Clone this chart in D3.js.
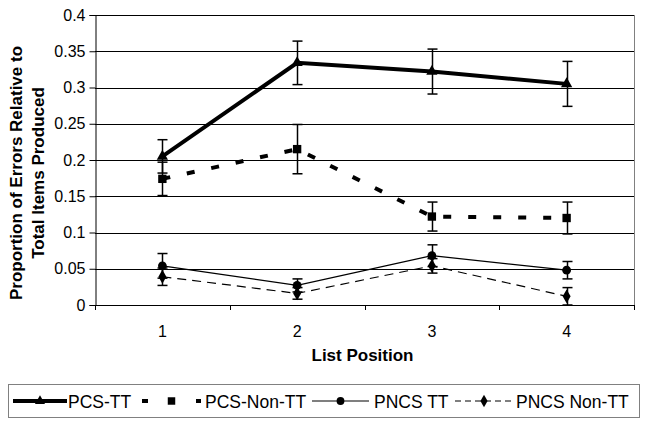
<!DOCTYPE html>
<html><head><meta charset="utf-8">
<script src="https://cdn.jsdelivr.net/npm/d3@7"></script>
<style>body{margin:0;background:#fff}svg{display:block;font-family:"Liberation Sans",Arial,sans-serif}</style>
</head><body><svg id="c" width="649" height="427"></svg>
<script>
const categories = ["1","2","3","4"];
const yTicks = [0,0.05,0.1,0.15,0.2,0.25,0.3,0.35,0.4];
const yTickLabels = ["0","0.05","0.1","0.15","0.2","0.25","0.3","0.35","0.4"];
const seriesNames = ["PCS-TT","PCS-Non-TT","PNCS TT","PNCS Non-TT"];
const pcsTT = [0.205,0.334,0.322,0.305];
const pcsTTErr = [0.023,0.030,0.031,0.031];
const pcsNonTT = [0.174,0.215,0.122,0.120];
const pcsNonTTErr = [0.023,0.034,0.020,0.022];
const pncsTT = [0.054,0.027,0.068,0.048];
const pncsTTErr = [0.017,0.009,0.015,0.012];
const pncsNonTT = [0.039,0.016,0.054,0.012];
const pncsNonTTErr = [0.012,0.008,0.010,0.012];
const xTitle = "List Position";
const yTitle = ["Proportion of Errors Relative to","Total Items Produced"];

const svg = d3.select("#c");
const L=95,R=634,T=15,B=305;
const x = d3.scaleBand().domain(categories).range([L,R]).padding(0);
const y = d3.scaleLinear().domain([0,0.4]).range([B,T]);
const cx = c => x(c)+x.bandwidth()/2;

// gridlines
svg.append("g").selectAll("line").data(yTicks.filter(v=>v>0)).join("line")
  .attr("x1",L).attr("x2",R).attr("y1",d=>Math.round(y(d))+0.5).attr("y2",d=>Math.round(y(d))+0.5)
  .attr("stroke","#000").attr("stroke-width",1);
// right border
svg.append("line").attr("x1",R+0.5).attr("x2",R+0.5).attr("y1",T).attr("y2",B).attr("stroke","#808080");

// y axis
const yAxis = d3.axisLeft(y).tickValues(yTicks).tickFormat((d,i)=>yTickLabels[i]).tickSize(6).tickPadding(4);
const ya = svg.append("g").attr("transform",`translate(${L+0.5},0)`).call(yAxis);
ya.select(".domain").attr("stroke","#000");
ya.selectAll("text").attr("font-size",16).attr("fill","#000").attr("font-family","Liberation Sans, Arial");

// x axis
const xa = svg.append("g").attr("transform",`translate(0,${B+0.5})`).call(d3.axisBottom(x).tickSize(0).tickPadding(20));
xa.select(".domain").remove();
xa.selectAll("text").attr("font-size",16).attr("fill","#000").attr("font-family","Liberation Sans, Arial");
svg.append("line").attr("x1",L).attr("x2",R+1).attr("y1",B+0.5).attr("y2",B+0.5).attr("stroke","#000");
const bounds = categories.map(c=>x(c)).concat([R]);
svg.append("g").selectAll("line").data(bounds).join("line")
  .attr("x1",d=>Math.round(d)+0.5).attr("x2",d=>Math.round(d)+0.5).attr("y1",B).attr("y2",B+5).attr("stroke","#000");

// titles
svg.append("text").attr("x",(L+R)/2-2).attr("y",361).attr("text-anchor","middle")
  .attr("font-size",17).attr("font-weight","bold").text(xTitle);
const yt = svg.append("g").attr("transform","translate(0,173) rotate(-90)");
yt.append("text").attr("x",0).attr("y",22).attr("text-anchor","middle").attr("font-size",17).attr("font-weight","bold").text(yTitle[0]);
yt.append("text").attr("x",0).attr("y",44).attr("text-anchor","middle").attr("font-size",17).attr("font-weight","bold").text(yTitle[1]);

const series = [
  {name:seriesNames[0],v:pcsTT,e:pcsTTErr,w:4,dash:null,sym:d3.symbolTriangle,size:55},
  {name:seriesNames[1],v:pcsNonTT,e:pcsNonTTErr,w:4,dash:"8,17",sym:d3.symbolSquare,size:70},
  {name:seriesNames[2],v:pncsTT,e:pncsTTErr,w:1.2,dash:null,sym:d3.symbolCircle,size:60},
  {name:seriesNames[3],v:pncsNonTT,e:pncsNonTTErr,w:1.2,dash:"9,6",sym:d3.symbolDiamond,size:55},
];
const line = d3.line().x((d,i)=>cx(categories[i])).y(d=>y(d));
series.forEach(s=>{
  const g = svg.append("g");
  g.append("path").attr("d",line(s.v)).attr("fill","none").attr("stroke","#000")
    .attr("stroke-width",s.w).attr("stroke-dasharray",s.dash);
  const eb = g.append("g");
  s.v.forEach((v,i)=>{
    const X=Math.round(cx(categories[i]))+0.5;
    eb.append("line").attr("x1",X).attr("x2",X).attr("y1",y(v+s.e[i])).attr("y2",y(v-s.e[i])).attr("stroke","#000").attr("stroke-width",1.5);
    [v+s.e[i],v-s.e[i]].forEach(t=>eb.append("line").attr("x1",X-5).attr("x2",X+5).attr("y1",y(t)).attr("y2",y(t)).attr("stroke","#000").attr("stroke-width",1.5));
  });
  g.selectAll("path.m").data(s.v).join("path").attr("class","m")
    .attr("d",d3.symbol(s.sym,s.size)).attr("fill","#000")
    .attr("transform",(d,i)=>`translate(${cx(categories[i])},${y(d)})`);
});

// legend
const lg = svg.append("g");
lg.append("rect").attr("x",8.5).attr("y",384.5).attr("width",631).attr("height",33).attr("fill","#fff").attr("stroke","#808080");
const ly=401;
const items=[
  {s:series[0],x1:13,x2:67,tx:68},
  {s:series[1],x1:142,x2:201,tx:205},
  {s:series[2],x1:312,x2:369,tx:374},
  {s:series[3],x1:455,x2:513,tx:516},
];
items.forEach(it=>{
  const s=it.s;
  lg.append("line").attr("x1",it.x1).attr("x2",it.x2).attr("y1",ly).attr("y2",ly).attr("stroke","#000")
    .attr("stroke-width",s.w).attr("stroke-dasharray",s.dash?(s.w>2?"6,21":"6,4"):null);
  lg.append("path").attr("d",d3.symbol(s.sym,s.size*0.8)).attr("fill","#000").attr("transform",`translate(${(it.x1+it.x2)/2},${ly})`);
  lg.append("text").attr("x",it.tx).attr("y",ly+6.5).attr("font-size",17.5).attr("font-family","Liberation Sans, Arial").text(s.name);
});
</script></body></html>
